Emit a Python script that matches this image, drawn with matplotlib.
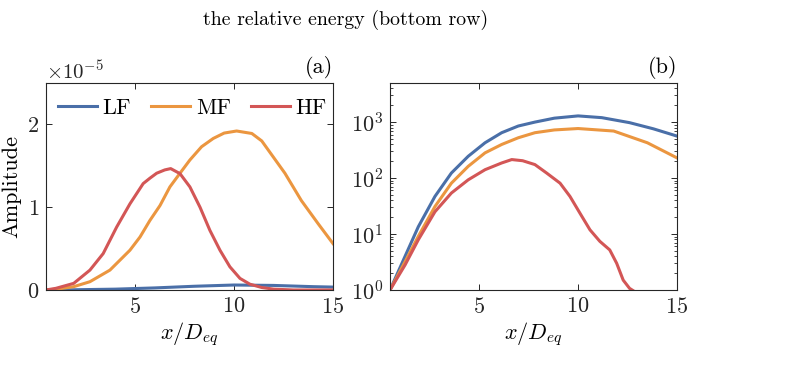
import matplotlib
matplotlib.use("Agg")
import matplotlib.pyplot as plt
import numpy as np

plt.rcParams['font.family'] = ['cmr10', 'DejaVu Serif']
plt.rcParams['mathtext.fontset'] = 'cm'
plt.rcParams['axes.formatter.use_mathtext'] = True
plt.rcParams['axes.unicode_minus'] = True

# colours of the three frequency bands
c_lf = '#4a6fa8'
c_mf = '#eb9640'
c_hf = '#d35656'

# (a) amplitude, in units of 1e-5
lf_x = [0.5, 2, 4, 6, 8, 10, 12, 14, 15]
lf_amp = [0.0, 0.003, 0.01, 0.025, 0.045, 0.06, 0.055, 0.04, 0.035]

mf_x = [0.5, 1.04, 1.9, 2.72, 3.73, 4.74, 5.25, 5.75, 6.26, 6.76, 7.27, 7.77, 8.36,
        8.95, 9.5, 10.13, 10.9, 11.4, 11.73, 12.57, 13.4, 14.25, 15]
mf_amp = [0.0, 0.01, 0.04, 0.10, 0.24, 0.48, 0.64, 0.84, 1.02, 1.245, 1.41, 1.57,
          1.73, 1.83, 1.895, 1.92, 1.89, 1.80, 1.69, 1.41, 1.08, 0.80, 0.56]

hf_x = [0.5, 1.0, 1.9, 2.72, 3.39, 4.07, 4.74, 5.41, 5.75, 6.09, 6.5, 6.8, 7.27,
        7.77, 8.28, 8.78, 9.29, 9.79, 10.3, 10.8, 11.4, 12.0, 13.0, 15.0]
hf_amp = [0.0, 0.02, 0.08, 0.24, 0.44, 0.76, 1.04, 1.285, 1.35, 1.41, 1.45, 1.466,
          1.405, 1.245, 1.0, 0.72, 0.48, 0.28, 0.14, 0.07, 0.03, 0.01, 0.0, 0.0]

# (b) relative energy
lf_ex = [0.5, 1.26, 1.93, 2.77, 3.6, 4.45, 5.3, 6.14, 6.98, 7.82, 8.8, 10.0, 11.2,
         12.6, 13.8, 15]
lf_en = [1, 4.0, 13.5, 47, 123, 245, 427, 646, 851, 1000, 1175, 1290, 1200, 977,
         759, 562]

mf_ex = [0.5, 1.26, 1.93, 2.77, 3.6, 4.45, 5.3, 6.14, 6.98, 7.82, 8.8, 10.0, 11.8,
         13.5, 15]
mf_en = [1, 3.2, 9.1, 31, 81, 162, 282, 398, 525, 646, 724, 767, 692, 427, 229]

hf_ex = [0.5, 1.26, 1.93, 2.77, 3.6, 4.45, 5.3, 6.14, 6.65, 7.2, 7.82, 8.41, 9.09,
         9.59, 10.1, 10.6, 11.1, 11.6, 11.95, 12.28, 12.6, 12.87, 13.1]
hf_en = [1, 2.8, 7.9, 25, 54, 93, 141, 186, 214, 204, 174, 123, 81, 47, 23.4, 11.9,
         7.4, 5.2, 3.0, 1.5, 1.07, 0.93, 0.6]

fig = plt.figure(figsize=(8.04, 3.66), dpi=100)
ax1 = fig.add_axes([0.0572, 0.2077, 0.357, 0.5656])
ax2 = fig.add_axes([0.4851, 0.2077, 0.3570, 0.5656])

lw = 2.2
fs = 16

ax1.plot(lf_x, np.array(lf_amp) * 1e-5, color=c_lf, lw=lw, label='LF')
ax1.plot(mf_x, np.array(mf_amp) * 1e-5, color=c_mf, lw=lw, label='MF')
ax1.plot(hf_x, np.array(hf_amp) * 1e-5, color=c_hf, lw=lw, label='HF')
ax1.set_xlim(0.5, 15)
ax1.set_ylim(0, 2.5e-5)
ax1.set_xticks([5, 10, 15])
ax1.set_yticks([0, 1e-5, 2e-5])
ax1.set_ylabel('Amplitude', fontsize=fs, labelpad=4)
ax1.set_xlabel(r'$x/D_{eq}$', fontsize=fs, labelpad=2)
ax1.yaxis.get_offset_text().set_fontsize(fs - 1)
ax1.legend(loc='center', bbox_to_anchor=(0.51, 0.88), ncol=3, frameon=False,
           fontsize=fs, handlelength=1.75, columnspacing=0.9, handletextpad=0.25)
ax1.text(1.0, 1.02, '(a)', transform=ax1.transAxes, ha='right', va='bottom', fontsize=fs)

ax2.plot(lf_ex, lf_en, color=c_lf, lw=lw)
ax2.plot(mf_ex, mf_en, color=c_mf, lw=lw)
ax2.plot(hf_ex, hf_en, color=c_hf, lw=lw)
ax2.set_yscale('log')
ax2.set_xlim(0.5, 15)
ax2.set_ylim(1, 5000)
ax2.set_xticks([5, 10, 15])
ax2.set_yticks([1, 10, 100, 1000])
ax2.set_xlabel(r'$x/D_{eq}$', fontsize=fs, labelpad=2)
ax2.text(1.0, 1.02, '(b)', transform=ax2.transAxes, ha='right', va='bottom', fontsize=fs)

for ax in (ax1, ax2):
    ax.tick_params(which='both', direction='in', top=True, right=True,
                   labelsize=fs, colors='#262626', pad=5)
    ax.tick_params(which='major', length=4, width=0.7)
    ax.tick_params(which='minor', length=2.5, width=0.6)
    for s in ax.spines.values():
        s.set_color('#262626')
        s.set_linewidth(0.8)

fig.text(203 / 804, 1 - 20 / 366, 'the relative energy (bottom row)', fontsize=14.3,
         ha='left', va='center')

fig.savefig('out.png', dpi=100)
